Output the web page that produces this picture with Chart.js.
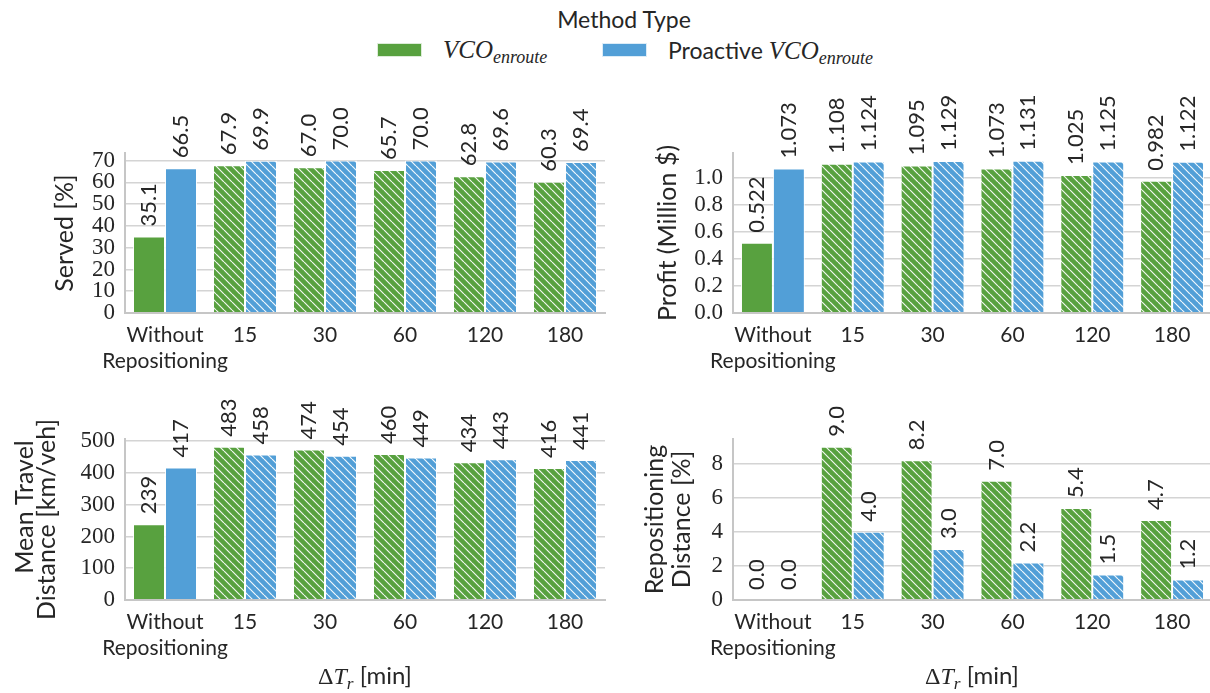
<!DOCTYPE html>
<html>
<head>
<meta charset="utf-8">
<script src="https://cdn.jsdelivr.net/npm/chart.js@4.4.1/dist/chart.umd.min.js"></script>
<style>
  html, body { margin: 0; padding: 0; background: #fff; }
  #fig { position: relative; width: 1210px; height: 693px; overflow: hidden; background: #fff; color: #262626; }
  #fig canvas { position: absolute; }
  .sans { font-family: 'Lato', 'Noto Sans', sans-serif; }
  .math { font-family: 'Liberation Serif', 'DejaVu Serif', serif; font-style: italic; }
  .up { font-style: normal; }
  .abs { position: absolute; white-space: nowrap; }
  .sw { position: absolute; width: 45px; height: 14px; box-sizing: border-box; border: 1px solid rgba(255,255,255,0.8); }
  sub { font-size: 0.72em; vertical-align: -0.3em; line-height: 0; }
</style>
</head>
<body>
<div id="fig">
  <div class="abs sans" style="left:624px; top:19px; transform:translate(-50%,-50%); font-size:23px;">Method Type</div>
  <div class="sw" style="left:377px; top:43px; background:#58a13f;"></div>
  <div class="abs math" style="left:443px; top:36px; font-size:25px; line-height:28px;">VCO<sub>enroute</sub></div>
  <div class="sw" style="left:602px; top:43px; background:#529fd7;"></div>
  <div class="abs" style="left:668px; top:36px; font-size:23px; line-height:28px;"><span class="sans">Proactive </span><span class="math" style="font-size:25px;">VCO<sub>enroute</sub></span></div>

  <canvas id="served"></canvas>
  <canvas id="profit"></canvas>
  <canvas id="distance"></canvas>
  <canvas id="repo"></canvas>

  <div class="abs" style="left:365px; top:675px; transform:translate(-50%,-50%); font-size:24px;"><span class="math up">Δ</span><span class="math">T<sub>r</sub></span><span class="sans"> [min]</span></div>
  <div class="abs" style="left:972px; top:675px; transform:translate(-50%,-50%); font-size:24px;"><span class="math up">Δ</span><span class="math">T<sub>r</sub></span><span class="sans"> [min]</span></div>
</div>

<script>
// Repositioning interval categories (min)
const categories = [['Without', 'Repositioning'], '15', '30', '60', '120', '180'];

// Served requests [%]
const servedVco = [35.1, 67.9, 67.0, 65.7, 62.8, 60.3];
const servedPro = [66.5, 69.9, 70.0, 70.0, 69.6, 69.4];
const servedTicks = [0, 10, 20, 30, 40, 50, 60, 70];

// Profit (Million $)
const profitVco = [0.522, 1.108, 1.095, 1.073, 1.025, 0.982];
const profitPro = [1.073, 1.124, 1.129, 1.131, 1.125, 1.122];
const profitTicks = [0.0, 0.2, 0.4, 0.6, 0.8, 1.0];

// Mean travel distance [km/veh]
const distVco = [239, 483, 474, 460, 434, 416];
const distPro = [417, 458, 454, 449, 443, 441];
const distTicks = [0, 100, 200, 300, 400, 500];

// Repositioning distance [%]
const repoVco = [0.0, 9.0, 8.2, 7.0, 5.4, 4.7];
const repoPro = [0.0, 4.0, 3.0, 2.2, 1.5, 1.2];
const repoTicks = [0, 2, 4, 6, 8];

const seriesNames = ['VCO enroute', 'Proactive VCO enroute'];

const GREEN = '#58a13f';
const BLUE = '#529fd7';
const TEXT = '#262626';
const SANS = "'Lato', 'Noto Sans', sans-serif";
const SERIF = "'Liberation Serif', 'DejaVu Serif', serif";

// Diagonal white hatch ("\\" direction) on a solid fill
function hatch(color) {
  const s = 8;
  const c = document.createElement('canvas');
  c.width = s; c.height = s;
  const g = c.getContext('2d');
  g.fillStyle = color;
  g.fillRect(0, 0, s, s);
  g.strokeStyle = 'rgba(255,255,255,0.92)';
  g.lineWidth = 1.2;
  g.beginPath();
  for (const k of [-s, 0, s]) { g.moveTo(k, 0); g.lineTo(k + s, s); }
  g.stroke();
  return g.createPattern(c, 'repeat');
}

// First group is drawn solid, the repositioning intervals hatched
function fills(color) {
  const p = hatch(color);
  return categories.map((_, i) => (i === 0 ? color : p));
}

// Rotated value labels above each bar
const valueLabels = {
  id: 'valueLabels',
  afterDatasetsDraw(chart, args, opts) {
    const ctx = chart.ctx;
    ctx.save();
    ctx.fillStyle = TEXT;
    ctx.font = `${opts.size}px ${SANS}`;
    ctx.textAlign = 'left';
    ctx.textBaseline = 'middle';
    chart.data.datasets.forEach((ds, di) => {
      const meta = chart.getDatasetMeta(di);
      meta.data.forEach((bar, i) => {
        ctx.save();
        ctx.translate(bar.x, bar.y - opts.gap);
        ctx.rotate(-Math.PI / 2);
        ctx.fillText(opts.format(ds.data[i]), 0, 0);
        ctx.restore();
      });
    });
    ctx.restore();
  }
};

const panels = [
  { id: 'served', box: { x: 0, y: 70, w: 630, h: 320 }, plot: { l: 125, t: 153, r: 605, b: 313 },
    vco: servedVco, pro: servedPro, ticks: servedTicks, max: 73.5,
    title: ['Served [%]'], titleX: 65, titleLH: 25,
    fmt: v => v.toFixed(1), tickFmt: v => String(v) },
  { id: 'profit', box: { x: 630, y: 70, w: 600, h: 320 }, plot: { l: 733, t: 153, r: 1212, b: 313 },
    vco: profitVco, pro: profitPro, ticks: profitTicks, max: 1.1876,
    title: ['Profit (Million $)'], titleX: 668, titleLH: 25,
    fmt: v => v.toFixed(3), tickFmt: v => v.toFixed(1) },
  { id: 'distance', box: { x: 0, y: 395, w: 630, h: 298 }, plot: { l: 125, t: 439, r: 605, b: 600 },
    vco: distVco, pro: distPro, ticks: distTicks, max: 507.15,
    title: ['\u2002\u2002Mean Travel', 'Distance [km/veh]'], titleX: 25, titleLH: 22,
    fmt: v => v.toFixed(0), tickFmt: v => String(v) },
  { id: 'repo', box: { x: 630, y: 395, w: 600, h: 298 }, plot: { l: 733, t: 439, r: 1212, b: 600 },
    vco: repoVco, pro: repoPro, ticks: repoTicks, max: 9.45,
    title: ['Repositioning', 'Distance [%]'], titleX: 655, titleLH: 27,
    fmt: v => v.toFixed(1), tickFmt: v => String(v) }
];

panels.forEach(p => {
  const cv = document.getElementById(p.id);
  cv.width = p.box.w; cv.height = p.box.h;
  cv.style.left = p.box.x + 'px'; cv.style.top = p.box.y + 'px';
  cv.style.width = p.box.w + 'px'; cv.style.height = p.box.h + 'px';

  const yWidth = p.plot.l - p.box.x;
  const xHeight = p.box.y + p.box.h - p.plot.b;
  const titleFont = 25;

  new Chart(cv, {
    type: 'bar',
    data: {
      labels: categories,
      datasets: [
        { label: seriesNames[0], data: p.vco, backgroundColor: fills(GREEN), borderColor: 'rgba(255,255,255,0.85)', borderWidth: 1 },
        { label: seriesNames[1], data: p.pro, backgroundColor: fills(BLUE), borderColor: 'rgba(255,255,255,0.85)', borderWidth: 1 }
      ]
    },
    options: {
      responsive: false,
      animation: false,
      devicePixelRatio: 1,
      layout: { padding: { left: 0, top: p.plot.t - p.box.y, right: p.box.x + p.box.w - p.plot.r, bottom: 0 } },
      datasets: { bar: { categoryPercentage: 0.8, barPercentage: 1.0 } },
      plugins: {
        legend: { display: false },
        tooltip: { enabled: false },
        valueLabels: { size: 22, gap: 10, format: p.fmt }
      },
      scales: {
        x: {
          afterFit: s => { s.height = xHeight; },
          grid: { display: false, drawTicks: false },
          border: { display: true, color: '#c6c6c6', width: 2, z: 1 },
          ticks: { color: TEXT, padding: 9, maxRotation: 0, autoSkip: false,
                   font: { family: SANS, size: 21, lineHeight: 1.25 } }
        },
        y: {
          min: 0, max: p.max,
          afterFit: s => { s.width = yWidth; },
          afterBuildTicks: s => { s.ticks = p.ticks.map(v => ({ value: v })); },
          grid: { color: '#d4d4d4', lineWidth: 1.6, drawTicks: false },
          border: { display: true, color: '#c6c6c6', width: 2, z: 1 },
          ticks: { color: TEXT, padding: 10, autoSkip: false, callback: v => p.tickFmt(v),
                   font: { family: SERIF, size: 23 } },
          title: {
            display: true, text: p.title, color: TEXT,
            font: { family: SANS, size: titleFont, lineHeight: p.titleLH / titleFont },
            padding: { top: p.titleX - p.box.x - p.titleLH / 2, bottom: 0 }
          }
        }
      }
    },
    plugins: [valueLabels]
  });
});
</script>
</body>
</html>
